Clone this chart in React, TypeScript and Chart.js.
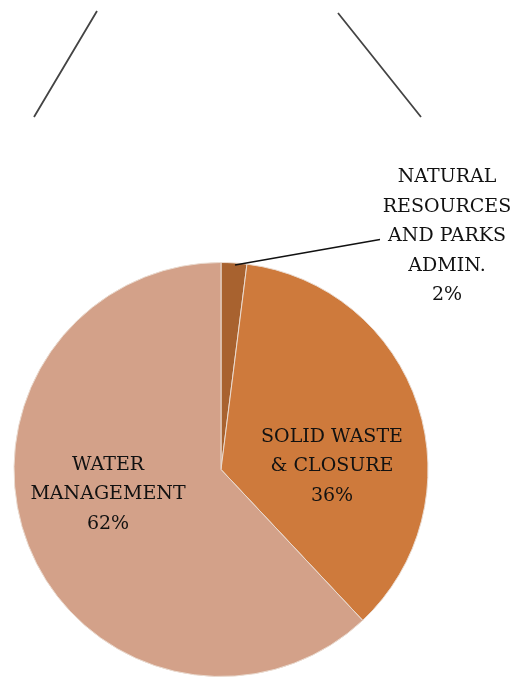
import React, { useEffect, useRef } from "react";
import { Chart, registerables } from "chart.js";

Chart.register(...registerables);

const categories = ["NATURAL RESOURCES AND PARKS ADMIN.", "SOLID WASTE & CLOSURE", "WATER MANAGEMENT"];
const labelLines = [
  ["NATURAL", "RESOURCES", "AND PARKS", "ADMIN.", "2%"],
  ["SOLID WASTE", "& CLOSURE", "36%"],
  ["WATER", "MANAGEMENT", "62%"],
];
const values = [2, 36, 62];
const colors = ["#A8622F", "#CE7A3C", "#D3A189"];

const FONT = '19px "DejaVu Serif", Cambria, serif';

const labelPlugin = {
  id: "customLabels",
  afterDraw(chart: any) {
    const ctx = chart.ctx as CanvasRenderingContext2D;
    const meta = chart.getDatasetMeta(0);
    const arcs = meta.data;
    ctx.save();
    // decorative top lines
    ctx.strokeStyle = "#444";
    ctx.lineWidth = 1.8;
    ctx.beginPath();
    ctx.moveTo(97, 11);
    ctx.lineTo(34, 117);
    ctx.moveTo(338, 13);
    ctx.lineTo(421, 117);
    ctx.stroke();

    ctx.font = FONT;
    ctx.fillStyle = "#111";
    ctx.textAlign = "center";
    ctx.textBaseline = "middle";
    const lh = 29.5;
    arcs.forEach((arc: any, i: number) => {
      const { x, y, startAngle, endAngle, outerRadius } = arc.getProps(
        ["x", "y", "startAngle", "endAngle", "outerRadius"],
        true
      );
      const mid = (startAngle + endAngle) / 2;
      const lines = labelLines[i];
      let cx: number, cy: number;
      if (i === 0) {
        const ex = x + Math.cos(mid) * outerRadius;
        const ey = y + Math.sin(mid) * outerRadius;
        ctx.strokeStyle = "#111";
        ctx.lineWidth = 1.5;
        ctx.beginPath();
        ctx.moveTo(ex + 1, ey + 2);
        ctx.lineTo(x + 159, y - 230);
        ctx.stroke();
        cx = x + 226;
        cy = y - 233;
      } else if (i === 1) {
        cx = x + 111;
        cy = y - 3;
      } else {
        cx = x - 113;
        cy = y + 25;
      }
      const top = cy - ((lines.length - 1) * lh) / 2;
      lines.forEach((t, k) => ctx.fillText(t, cx, top + k * lh));
    });
    ctx.restore();
  },
};

export default function App() {
  const ref = useRef<HTMLCanvasElement>(null);
  useEffect(() => {
    if (!ref.current) return;
    const chart = new Chart(ref.current, {
      type: "pie",
      data: {
        labels: categories,
        datasets: [
          {
            data: values,
            backgroundColor: colors,
            borderColor: "#eadbd0",
            borderWidth: 1,
          },
        ],
      },
      options: {
        animation: false,
        responsive: true,
        maintainAspectRatio: false,
        layout: { padding: { left: 13, top: 262, right: 85, bottom: 0 } },
        plugins: { legend: { display: false }, tooltip: { enabled: false } },
      },
      plugins: [labelPlugin],
    });
    return () => chart.destroy();
  }, []);
  return (
    <div style={{ position: "fixed", left: 0, top: 0, width: 514, height: 677, background: "#fff" }}>
      <canvas ref={ref} />
    </div>
  );
}
